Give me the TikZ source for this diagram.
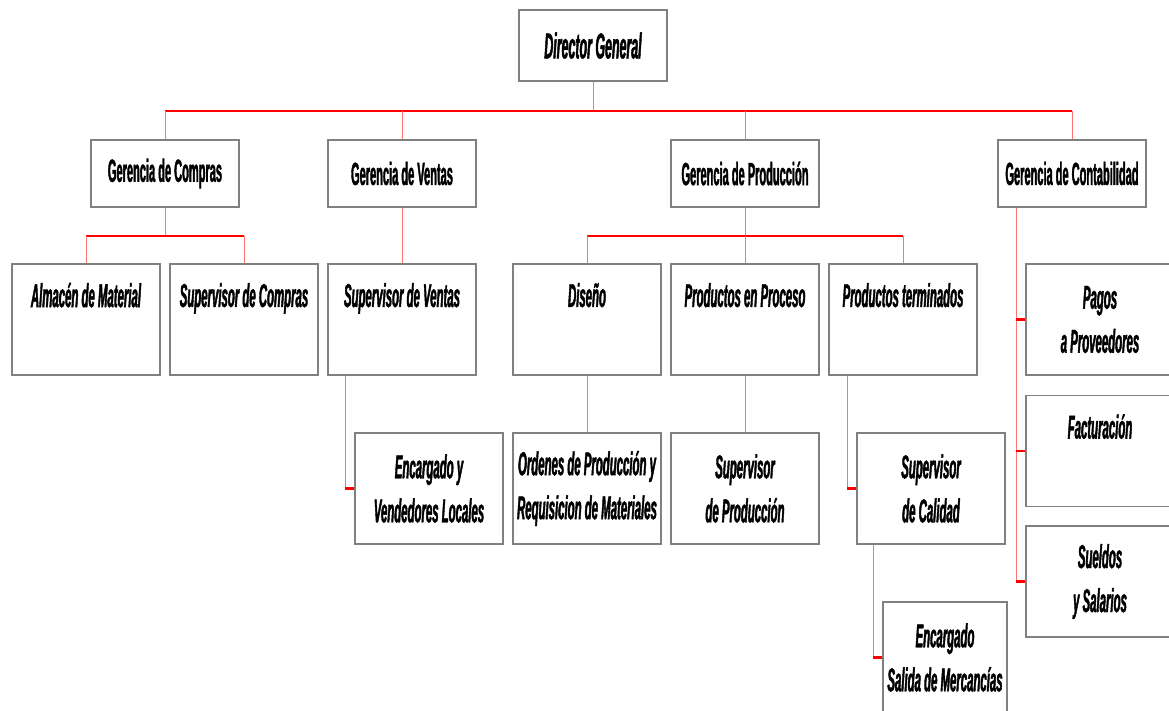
\documentclass[tikz,border=0pt]{standalone}
\usepackage{fontspec}
\setmainfont{Liberation Sans}[FakeStretch=0.345,
  BoldFeatures={FakeBold=1.2},BoldItalicFeatures={FakeBold=1.2}]
\newcommand\emptyline{\rule[-5pt]{0pt}{5pt}}
\begin{document}
\begin{tikzpicture}
[x=1pt,y=-1pt,
  boxDecorate/.style={draw=black!50,line width=1.4pt,fill=white,inner sep=0pt,align=center},
  headDecorate/.style={boxDecorate,minimum width=148pt,minimum height=67pt,%
    font=\fontsize{32}{44}\selectfont\bfseries},
  areaDecorate/.style={boxDecorate,minimum width=148pt,minimum height=111pt,%
    font=\fontsize{33}{44}\selectfont\bfseries\itshape},
  busDecorate/.style={red,line width=2.5pt},
  linkDecorate/.style={red!55,line width=1pt}]
\useasboundingbox (0,0) rectangle (1169,711);
\clip (0,0) rectangle (1169,711);
%% nodes or boxes
\node (dir) at (593,45.5) [headDecorate,minimum height=71pt,%
  font=\fontsize{36}{44}\selectfont\bfseries\itshape] {Director General};
\foreach \nodename/\x/\txt in {
  gc/165/Gerencia de Compras, gv/402/Gerencia de Ventas,
  gp/745/Gerencia de Producción, gcont/1072/Gerencia de Contabilidad}
{
  \node (\nodename) at (\x,173.5) [headDecorate] {\txt};
}
\foreach \nodename/\x/\y/\txt in {
  alm/86/319.5/{Almacén de Material\\\emptyline},
  supc/244/319.5/{Supervisor de Compras\\\emptyline},
  supv/402/319.5/{Supervisor de Ventas\\\emptyline},
  dis/587/319.5/{Diseño\\\emptyline},
  ppro/745/319.5/{Productos en Proceso\\\emptyline},
  pter/903/319.5/{Productos terminados\\\emptyline},
  enc/429/488.5/{Encargado y\\Vendedores Locales},
  ord/587/488.5/{Ordenes de Producción y\\Requisicion de Materiales},
  supp/745/488.5/{Supervisor\\de Producción},
  supcal/931/488.5/{Supervisor\\de Calidad},
  pag/1100/319.5/{Pagos\\a Proveedores},
  fac/1100/451/{Facturación\\\emptyline},
  sue/1100/581.5/{Sueldos\\y Salarios}}
{
  \node (\nodename) at (\x,\y) [areaDecorate] {\txt};
}
\node (sal) at (945,657.5) [areaDecorate,minimum width=124pt] {Encargado\\Salida de Mercancías};
%% buses
\coordinate (busTop) at (593,111);
\coordinate (busC) at (165,236);
\coordinate (busP) at (745,236);
\draw[linkDecorate] (dir.south) -- (busTop);
\draw[busDecorate] (gc.north |- busTop) -- (gcont.north |- busTop);
\foreach \nodename in {gc,gv,gp,gcont}
  \draw[linkDecorate] (\nodename.north |- busTop) -- (\nodename.north);
\draw[linkDecorate] (gc.south) -- (busC);
\draw[busDecorate] (alm.north |- busC) -- (supc.north |- busC);
\foreach \nodename in {alm,supc}
  \draw[linkDecorate] (\nodename.north |- busC) -- (\nodename.north);
\draw[linkDecorate] (gp.south) -- (busP);
\draw[busDecorate] (dis.north |- busP) -- (pter.north |- busP);
\foreach \nodename in {dis,ppro,pter}
  \draw[linkDecorate] (\nodename.north |- busP) -- (\nodename.north);
%% straight links
\path
\foreach \startnode/\endnode in {gv/supv, dis/ord, ppro/supp}
{
  (\startnode.south) edge[linkDecorate] (\endnode.north)
};
%% side links
\draw[linkDecorate] ([xshift=18pt]supv.south west) |- (enc.west);
\draw[linkDecorate] ([xshift=19pt]pter.south west) |- (supcal.west);
\draw[linkDecorate] ([xshift=17pt]supcal.south west) |- (sal.west);
\draw[linkDecorate] ([xshift=19pt]gcont.south west) |- (sue.west);
\foreach \nodename in {enc,supcal,sal,pag,fac,sue}
  \draw[busDecorate] (\nodename.west) -- ++(-9,0);
\end{tikzpicture}
\end{document}
